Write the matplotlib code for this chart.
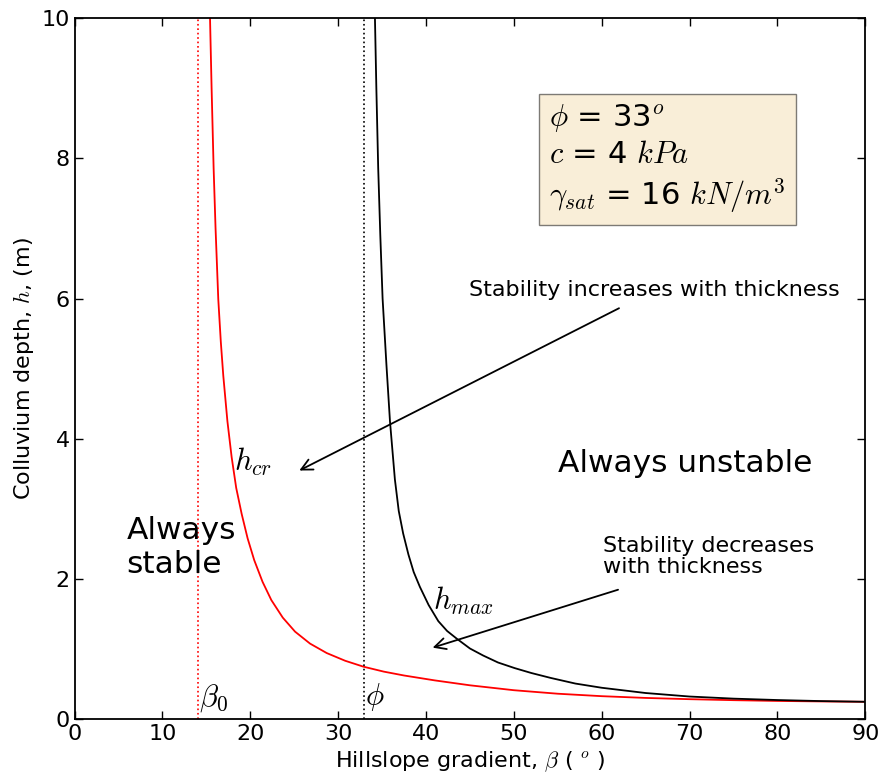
#!/usr/bin/env python3
# -*- coding: utf-8 -*-

import numpy as np
import matplotlib
matplotlib.use('Agg')
import matplotlib.pyplot as plt

# values (slope angle in degrees, depth in m)
beta_cr = [15.42, 15.6, 15.83, 16.05, 16.36, 16.65, 16.93, 17.4, 17.88, 18.4,
           19.02, 19.7, 20.45, 21.4, 22.4, 23.7, 25.1, 26.8, 28.7, 30.8,
           32.9, 35.2, 37.5, 41.0, 45.0, 50.0, 55.0, 60.0, 65.0, 70.0,
           75.0, 80.0, 85.0, 90.0]
h_cr = [10.0, 9.0, 7.86, 7.0, 5.99, 5.38, 4.9, 4.25, 3.74, 3.3,
        2.93, 2.58, 2.27, 1.96, 1.70, 1.45, 1.25, 1.08, 0.945, 0.835,
        0.75, 0.68, 0.625, 0.555, 0.485, 0.415, 0.365, 0.33, 0.305, 0.287,
        0.273, 0.262, 0.255, 0.25]
beta_max = [34.19, 34.35, 34.56, 34.8, 35.06, 35.5, 35.9, 36.46, 36.9, 37.4,
            38.0, 38.6, 39.3, 40.3, 41.4, 42.4, 43.5, 45.0, 46.5, 48.2,
            50.1, 52.0, 54.2, 57.0, 60.0, 65.0, 70.0, 75.0, 80.0, 85.0, 90.0]
h_max = [10.0, 9.0, 7.86, 6.9, 6.0, 5.05, 4.25, 3.42, 2.97, 2.65,
         2.35, 2.10, 1.89, 1.63, 1.40, 1.26, 1.15, 1.01, 0.91, 0.81,
         0.73, 0.66, 0.59, 0.51, 0.45, 0.375, 0.325, 0.295, 0.275, 0.26, 0.25]
beta0 = 14.1
phi = 33.0
xticks = np.arange(0, 91, 10)
yticks = np.arange(0, 11, 2)

plt.rc('mathtext', fontset='cm')
plt.rc('font', family='DejaVu Sans')
fig = plt.figure(figsize=(8.83, 7.84), dpi=100)
ax = fig.add_axes([0.0844, 0.0825, 0.8956, 0.8945])

ax.plot(beta_cr, h_cr, 'r-', lw=1.3)
ax.plot(beta_max, h_max, 'k-', lw=1.3)
ax.plot([beta0, beta0], [0, 10], 'r:', lw=1.2)
ax.plot([phi, phi], [0, 10], 'k:', lw=1.2)

ax.text(18.1, 3.55, r'$h_{cr}$', fontsize=22, va='baseline')
ax.text(40.8, 1.56, r'$h_{max}$', fontsize=22, va='baseline')
ax.text(14.2, 0.07, r'$\beta_0$', fontsize=22, va='bottom')
ax.text(33.1, 0.09, r'$\phi$', fontsize=22, va='bottom')

ax.text(5.9, 2.9, 'Always\nstable', fontsize=22.5, va='top', ha='left')
ax.text(55.0, 3.52, 'Always unstable', fontsize=22.5, va='baseline')

ax.text(44.9, 6.03, 'Stability increases with thickness', fontsize=16, va='baseline')
ax.annotate('', xy=(25.3, 3.53), xytext=(62.25, 5.88),
            arrowprops=dict(arrowstyle='->', lw=1.3, color='k', mutation_scale=20))
ax.text(60.2, 2.62, 'Stability decreases\nwith thickness', fontsize=16, va='top',
        linespacing=1.1)
ax.annotate('', xy=(40.45, 1.01), xytext=(62.16, 1.86),
            arrowprops=dict(arrowstyle='->', lw=1.3, color='k', mutation_scale=20))

ax.text(54.0, 8.0, '$\\phi$ = 33$^o$\n$c$ = 4 $kPa$\n$\\gamma_{sat}$ = 16 $kN/m^3$',
        fontsize=22, va='center', ha='left', linespacing=1.25,
        bbox=dict(boxstyle='square,pad=0.33', facecolor='wheat', alpha=0.5))

ax.set_xlim(0, 90)
ax.set_ylim(0, 10)
ax.set_xticks(xticks)
ax.set_yticks(yticks)
ax.tick_params(direction='in', top=True, right=True, labelsize=16, length=6, width=1)
for s in ax.spines.values():
    s.set_linewidth(1.3)
ax.set_xlabel(r'Hillslope gradient, $\beta$ ( $^o$ )', fontsize=16)
ax.set_ylabel(r'Colluvium depth, $h$, (m)', fontsize=16)

plt.savefig('out.png', dpi=100)
